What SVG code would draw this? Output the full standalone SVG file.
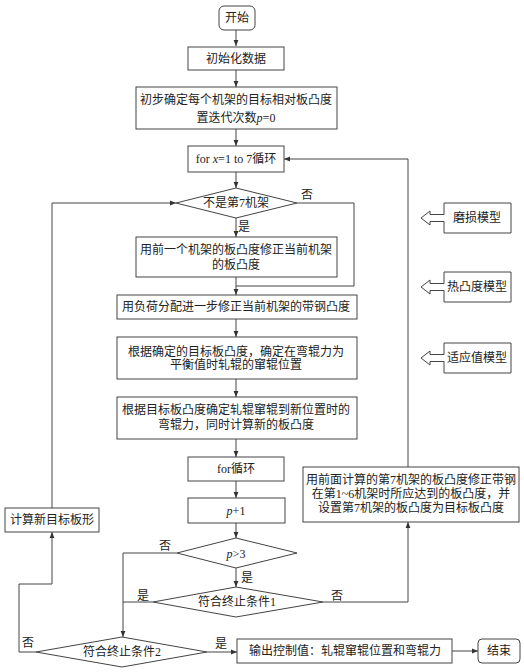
<svg xmlns="http://www.w3.org/2000/svg" width="524" height="672" viewBox="0 0 524 672">
<style>
.b{fill:#fff;stroke:#444;stroke-width:1}
.l{fill:none;stroke:#444;stroke-width:1}
text{font-family:"Liberation Serif","Noto Sans CJK SC",serif;font-size:12px;fill:#222;text-anchor:middle}
.i{font-style:italic}
</style>
<defs>
<marker id="a" viewBox="0 0 10 10" refX="10" refY="5" markerWidth="6" markerHeight="6" orient="auto" markerUnits="userSpaceOnUse">
<path d="M0,1 L10,5 L0,9 z" fill="#333"/>
</marker>
</defs>
<rect width="524" height="672" fill="#fff"/>
<g id="connectors">
<path class="l" d="M236,30 V46" marker-end="url(#a)"/>
<path class="l" d="M236,70 V87" marker-end="url(#a)"/>
<path class="l" d="M236,129 V146" marker-end="url(#a)"/>
<path class="l" d="M236,172 V188" marker-end="url(#a)"/>
<path class="l" d="M236,218 V237" marker-end="url(#a)"/>
<path class="l" d="M297,203 H354 V286 H236"/>
<path class="l" d="M236,277 V295" marker-end="url(#a)"/>
<path class="l" d="M236,319 V337" marker-end="url(#a)"/>
<path class="l" d="M236,379 V397" marker-end="url(#a)"/>
<path class="l" d="M236,439 V457" marker-end="url(#a)"/>
<path class="l" d="M236,481 V498" marker-end="url(#a)"/>
<path class="l" d="M236,523 V538" marker-end="url(#a)"/>
<path class="l" d="M236,568 V587" marker-end="url(#a)"/>
<path class="l" d="M177,553 H123 V637" marker-end="url(#a)"/>
<path class="l" d="M153,602 H123"/>
<path class="l" d="M323,602 H408 V522" marker-end="url(#a)"/>
<path class="l" d="M408,467 V159 H284" marker-end="url(#a)"/>
<path class="l" d="M36,652 H19 V584 H52 V532" marker-end="url(#a)"/>
<path class="l" d="M52,508 V203 H176" marker-end="url(#a)"/>
<path class="l" d="M207,652 H237" marker-end="url(#a)"/>
<path class="l" d="M452,651 H478" marker-end="url(#a)"/>
<text x="307" y="199">否</text>
<text x="244" y="231">是</text>
<text x="165" y="550">否</text>
<text x="247" y="582">是</text>
<text x="143" y="600">是</text>
<text x="337" y="600">否</text>
<text x="28" y="647">否</text>
<text x="221" y="648">是</text>
</g>
<g id="start"><rect class="b" x="219" y="6" width="36" height="24" rx="5"/><text x="237" y="22">开始</text></g>
<g id="init"><rect class="b" x="188" y="47" width="96" height="23"/><text x="236" y="63">初始化数据</text></g>
<g id="target"><rect class="b" x="136" y="87" width="201" height="42"/><text x="236" y="104">初步确定每个机架的目标相对板凸度</text><text x="236" y="122">置迭代次数<tspan class="i">p</tspan>=0</text></g>
<g id="forx"><rect class="b" x="188" y="146" width="96" height="26"/><text x="236" y="163">for <tspan class="i">x</tspan>=1 to 7循环</text></g>
<g id="not7"><polygon class="b" points="176,203 236,188 297,203 236,218"/><text x="236" y="207">不是第7机架</text></g>
<g id="prev"><rect class="b" x="136" y="237" width="201" height="40"/><text x="236" y="254">用前一个机架的板凸度修正当前机架</text><text x="236" y="269">的板凸度</text></g>
<g id="load"><rect class="b" x="117" y="295" width="240" height="24"/><text x="236" y="311">用负荷分配进一步修正当前机架的带钢凸度</text></g>
<g id="shift"><rect class="b" x="117" y="337" width="240" height="42"/><text x="236" y="356">根据确定的目标板凸度，确定在弯辊力为</text><text x="236" y="369">平衡值时轧辊的窜辊位置</text></g>
<g id="bend"><rect class="b" x="117" y="397" width="240" height="42"/><text x="236" y="414">根据目标板凸度确定轧辊窜辊到新位置时的</text><text x="236" y="429">弯辊力，同时计算新的板凸度</text></g>
<g id="forloop"><rect class="b" x="188" y="457" width="96" height="24"/><text x="236" y="473">for循环</text></g>
<g id="pplus"><rect class="b" x="188" y="498" width="97" height="25"/><text x="236" y="515"><tspan class="i">p</tspan>+1</text></g>
<g id="pgt3"><polygon class="b" points="177,553 236,538 297,553 236,568"/><text x="236" y="558"><tspan class="i">p</tspan>&gt;3</text></g>
<g id="cond1"><polygon class="b" points="153,602 236,587 323,602 236,617"/><text x="237" y="606">符合终止条件1</text></g>
<g id="correct"><rect class="b" x="303" y="467" width="216" height="55"/><text x="411" y="484">用前面计算的第7机架的板凸度修正带钢</text><text x="411" y="498">在第1~6机架时所应达到的板凸度，并</text><text x="411" y="512">设置第7机架的板凸度为目标板凸度</text></g>
<g id="newshape"><rect class="b" x="5" y="508" width="94" height="24"/><text x="52" y="524">计算新目标板形</text></g>
<g id="cond2"><polygon class="b" points="36,652 122,637 207,652 122,667"/><text x="122" y="656">符合终止条件2</text></g>
<g id="output"><rect class="b" x="237" y="639" width="215" height="24"/><text x="345" y="655">输出控制值：轧辊窜辊位置和弯辊力</text></g>
<g id="end"><rect class="b" x="478" y="639" width="42" height="24" rx="4"/><text x="499" y="655">结束</text></g>
<g id="wear"><polygon class="b" points="444,203 511,203 511,233 444,233 444,221.5 430,221.5 430,225 421,218 430,211 430,214.5 444,214.5"/><text x="477" y="222">磨损模型</text></g>
<g id="thermal"><polygon class="b" points="444,272 511,272 511,302 444,302 444,290.5 430,290.5 430,294 421,287 430,280 430,283.5 444,283.5"/><text x="477" y="291">热凸度模型</text></g>
<g id="adapt"><polygon class="b" points="444,343 511,343 511,373 444,373 444,361.5 430,361.5 430,365 421,358 430,351 430,354.5 444,354.5"/><text x="477" y="362">适应值模型</text></g>
</svg>
